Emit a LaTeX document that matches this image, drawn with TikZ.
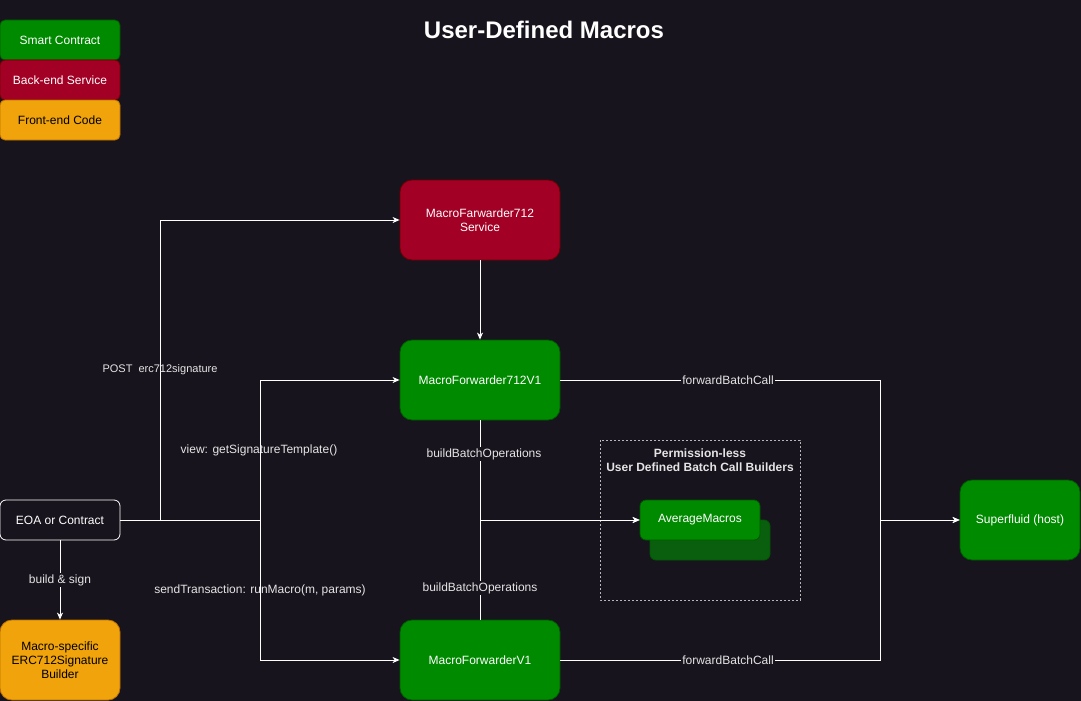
\documentclass[tikz,border=0pt]{standalone}
\usepackage{fontspec}
\setmainfont{Liberation Sans}
\usetikzlibrary{arrows.meta}
\definecolor{bg}{HTML}{18141D}
\definecolor{scfill}{HTML}{008A00}
\definecolor{scline}{HTML}{005700}
\definecolor{befill}{HTML}{A20025}
\definecolor{beline}{HTML}{6F0000}
\definecolor{fefill}{HTML}{F0A30A}
\definecolor{feline}{HTML}{BD7000}
\definecolor{shfill}{HTML}{0A5F0E}
\definecolor{lbl}{HTML}{E4E4E4}
\tikzset{
  box/.style={draw, line width=0.8pt, align=center, inner sep=2pt},
  sc/.style={box, fill=scfill, draw=scline, text=white},
  be/.style={box, fill=befill, draw=beline, text=white},
  fe/.style={box, fill=fefill, draw=feline, text=black},
  big/.style={minimum width=160pt, minimum height=80pt, rounded corners=12pt},
  small/.style={minimum width=120pt, minimum height=40pt, rounded corners=6pt},
  conn/.style={draw=white, line width=1pt, -{Stealth[length=7pt,width=6pt,inset=2pt]}},
  plain/.style={draw=white, line width=1pt},
  elabel/.style={text=lbl, font=\fontsize{12}{14}\selectfont, inner sep=1pt},
  elabelbg/.style={elabel, fill=bg},
}
\begin{document}
\begin{tikzpicture}[x=1pt,y=-1pt,font=\fontsize{12}{14}\selectfont]
\fill[bg] (0,0) rectangle (1081,701);
\useasboundingbox (0,0) rectangle (1081,701);

\node[text=white, font=\fontsize{24}{28}\selectfont\bfseries] (title) at (544,30) {User-Defined Macros};

% legend
\node[sc, small, rounded corners=5pt] (lsc) at (60,40) {Smart Contract};
\node[be, small, rounded corners=5pt] (lbe) at (60,80) {Back-end Service};
\node[fe, small, rounded corners=5pt] (lfe) at (60,120) {Front-end Code};

% dashed group
\draw[draw=lbl!80!black, line width=0.7pt, dash pattern=on 2pt off 2pt] (600,440) rectangle (800,600);
\node[text=lbl, font=\fontsize{12}{14}\selectfont\bfseries, align=center] (grp) at (700,460) {Permission-less\\User Defined Batch Call Builders};

% nodes
\node[be, big] (svc) at (480,220) {MacroFarwarder712\\Service};
\node[sc, big] (f712) at (480,380) {MacroForwarder712V1};
\node[sc, big] (fv1) at (480,660) {MacroForwarderV1};
\node[sc, big, minimum width=120pt] (sf) at (1020,520) {Superfluid (host)};
\node[box, small, fill=bg, draw=white, text=white] (eoa) at (60,520) {EOA or Contract};
\node[fe, big, minimum width=120pt] (bld) at (60,660) {Macro-specific\\ERC712Signature\\Builder};
\node[box, small, fill=shfill, draw=scline] (avgsh) at (710,540) {};
\node[sc, small] (avg) at (700,520) {AverageMacros};

% connectors
\draw[conn] (eoa.east) -- (160,520) |- (svc.west);
\node[elabel, font=\fontsize{11}{13}\selectfont] (l1) at (160,370) {POST\ \ erc712signature};
\draw[conn] (eoa.east) -- (260,520) |- (f712.west);
\node[elabel] (l2) at (259,450) {view: getSignatureTemplate()};
\draw[conn] (eoa.east) -- (260,520) |- (fv1.west);
\node[elabel] (l3) at (260,590) {sendTransaction: runMacro(m, params)};
\draw[conn] (eoa.south) -- (bld.north);
\node[elabelbg] (l4) at (60,580) {build \& sign};
\draw[conn] (svc.south) -- (f712.north);
\draw[conn] (f712.south) |- (avg.west);
\draw[conn] (fv1.north) |- (avg.west);
\node[elabelbg] (l5) at (484,454) {buildBatchOperations};
\node[elabelbg] (l6) at (480,588) {buildBatchOperations};
\draw[conn] (f712.east) -- (880,380) |- (sf.west);
\draw[conn] (fv1.east) -- (880,660) |- (sf.west);
\node[elabelbg] (l7) at (728,380) {forwardBatchCall};
\node[elabelbg] (l8) at (728,660) {forwardBatchCall};
\end{tikzpicture}
\end{document}
